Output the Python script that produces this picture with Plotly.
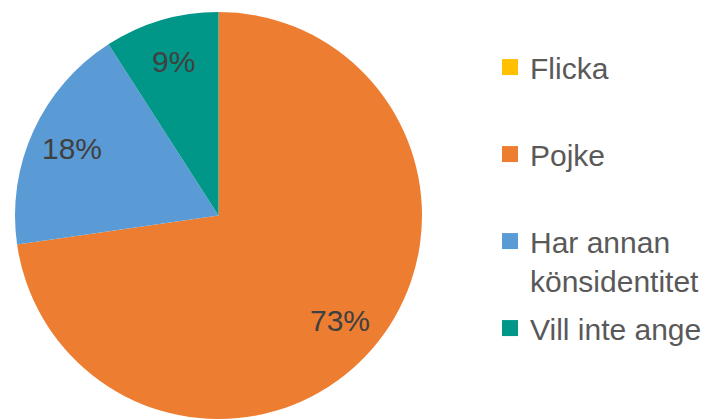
import math
import plotly.graph_objects as go

categories = ["Flicka", "Pojke", "Har annan<br>könsidentitet", "Vill inte ange"]
counts = [0, 8, 2, 1]
colors = ["#FFC000", "#ED7D31", "#5B9BD5", "#009688"]

W, H = 715, 419
dom_x = [13 / W, 424 / W]
dom_y = [0, 1 - 12 / H]

fig = go.Figure()

fig.add_trace(go.Pie(
    labels=categories,
    values=counts,
    marker=dict(colors=colors, line=dict(width=0)),
    sort=False,
    direction="clockwise",
    rotation=0,
    textinfo="none",
    domain=dict(x=dom_x, y=dom_y),
    hoverinfo="label+percent",
    showlegend=False,
))

# legend entries (square swatches), each label padded to two lines for even spacing
for cat, col in zip(categories, colors):
    name = cat if "<br>" in cat else cat + "<br> "
    fig.add_trace(go.Scatter(
        x=[None], y=[None], mode="markers",
        marker=dict(symbol="square", size=16, color=col),
        name=name, legendgroup=cat, showlegend=True, hoverinfo="skip",
    ))

# percentage labels placed along each slice's mid-angle (derived from the data)
total = sum(counts)
cx_px = (dom_x[0] + dom_x[1]) / 2 * W
cy_px = (1 - (dom_y[0] + dom_y[1]) / 2) * H
R = min((dom_x[1] - dom_x[0]) * W, (dom_y[1] - dom_y[0]) * H) / 2
frac = 0.79
cum = 0
for v in counts:
    if v > 0:
        mid = (cum + v / 2) / total * 2 * math.pi
        px = cx_px + frac * R * math.sin(mid)
        py = cy_px - frac * R * math.cos(mid)
        fig.add_annotation(
            x=px / W, y=1 - py / H, xref="paper", yref="paper",
            text=f"{round(100 * v / total)}%", showarrow=False,
            xanchor="center", yanchor="middle",
            font=dict(family="Liberation Sans, Arial, sans-serif", size=30, color="#404040"),
        )
    cum += v

fig.update_layout(
    width=W, height=H,
    margin=dict(l=0, r=0, t=0, b=0),
    paper_bgcolor="white",
    plot_bgcolor="white",
    xaxis=dict(visible=False),
    yaxis=dict(visible=False),
    showlegend=True,
    legend=dict(
        x=490 / W, y=0.902, xanchor="left", yanchor="top",
        font=dict(family="Liberation Sans, Arial, sans-serif", size=30, color="#595959"),
        valign="top",
        itemwidth=30,
        traceorder="grouped",
        tracegroupgap=6,
        bgcolor="rgba(0,0,0,0)",
    ),
)

fig.write_html("out.html", config={"displayModeBar": False},
               post_script="document.body.style.margin='0';")
